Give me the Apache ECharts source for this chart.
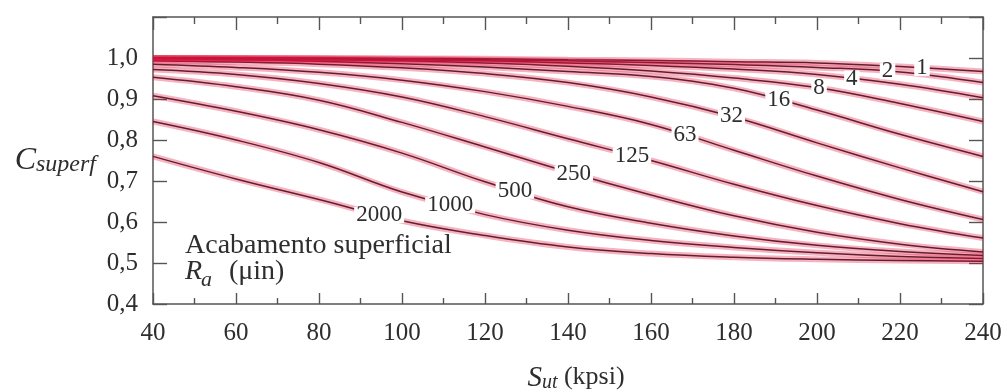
<!DOCTYPE html>
<html>
<head>
<meta charset="utf-8">
<script src="https://cdn.jsdelivr.net/npm/echarts@6/dist/echarts.min.js"></script>
<style>
  html, body { margin: 0; padding: 0; background: #fff; }
  #chart { width: 1007px; height: 392px; }
</style>
</head>
<body>
<div id="chart"></div>
<script>
// Ultimate tensile strength S_ut (kpsi) at which each curve is sampled
const sut = [40, 60, 80, 100, 120, 140, 160, 180, 200, 220, 240];

// Surface roughness Ra (µin), one curve each
const roughness = ['1', '2', '4', '8', '16', '32', '63', '125', '250', '500', '1000', '2000'];

// Surface factor C_superf for each roughness, at the S_ut values above
const ra1    = [1.000, 1.000, 1.000, 0.999, 0.998, 0.996, 0.994, 0.991, 0.988, 0.979, 0.967];
const ra2    = [1.000, 1.000, 0.999, 0.998, 0.996, 0.993, 0.989, 0.984, 0.977, 0.966, 0.940];
const ra4    = [1.000, 0.999, 0.998, 0.996, 0.993, 0.988, 0.982, 0.973, 0.960, 0.936, 0.903];
const ra8    = [0.999, 0.998, 0.996, 0.993, 0.988, 0.980, 0.968, 0.951, 0.928, 0.889, 0.845];
const ra16   = [0.998, 0.996, 0.992, 0.986, 0.978, 0.967, 0.955, 0.926, 0.873, 0.814, 0.760];
const ra32   = [0.993, 0.990, 0.985, 0.976, 0.962, 0.940, 0.905, 0.856, 0.793, 0.732, 0.674];
const ra63   = [0.985, 0.977, 0.965, 0.946, 0.918, 0.882, 0.838, 0.775, 0.712, 0.655, 0.606];
const ra125  = [0.972, 0.960, 0.938, 0.905, 0.857, 0.803, 0.750, 0.692, 0.640, 0.596, 0.561];
const ra250  = [0.953, 0.930, 0.897, 0.843, 0.783, 0.722, 0.666, 0.615, 0.575, 0.546, 0.527];
const ra500  = [0.908, 0.870, 0.825, 0.768, 0.698, 0.637, 0.597, 0.566, 0.543, 0.528, 0.518];
const ra1000 = [0.845, 0.800, 0.745, 0.673, 0.618, 0.580, 0.555, 0.538, 0.525, 0.516, 0.511];
const ra2000 = [0.760, 0.705, 0.655, 0.603, 0.567, 0.539, 0.523, 0.514, 0.509, 0.506, 0.504];

const curves = [ra1, ra2, ra4, ra8, ra16, ra32, ra63, ra125, ra250, ra500, ra1000, ra2000];

// S_ut at which each roughness label sits on its curve
const labelSut = [225.3, 217, 208.4, 200.5, 190.8, 179.4, 168.2, 155.4, 141.4, 127.2, 111.6, 94.5];

// Tick labels
const xTickLabels = ['40', '60', '80', '100', '120', '140', '160', '180', '200', '220', '240'];
const yTickLabels = ['0,4', '0,5', '0,6', '0,7', '0,8', '0,9', '1,0'];

const SERIF = '"Liberation Serif", "Times New Roman", serif';
const INK = '#2e2e2e';
const FRAME = '#555';

function valueAt(curve, s) {
  for (let j = 0; j < sut.length - 1; j++) {
    if (s >= sut[j] && s <= sut[j + 1]) {
      const t = (s - sut[j]) / (sut[j + 1] - sut[j]);
      return curve[j] + t * (curve[j + 1] - curve[j]);
    }
  }
  return curve[curve.length - 1];
}

const series = [];
curves.forEach((curve, i) => {
  const pts = sut.map((s, j) => [s, curve[j]]);
  // dark core of each curve
  series.push({
    type: 'line', name: roughness[i], data: pts, smooth: 0.4, symbol: 'none', silent: true, z: 2,
    lineStyle: { color: '#2c2226', width: 1.5 }
  });
  // translucent crimson wash on top; where curves crowd together it builds up to solid red
  series.push({
    type: 'line', data: pts, smooth: 0.4, symbol: 'none', silent: true, z: 3,
    lineStyle: { color: 'rgba(224, 20, 62, 0.32)', width: 6 }
  });
});

// Roughness labels, set on their curves with a white backing that breaks the line
const labelData = labelSut.map((s, i) => [s, valueAt(curves[i], s), i]);
series.push({
  type: 'custom', silent: true, z: 6,
  data: labelData,
  renderItem: (params, api) => {
    const p = api.coord([api.value(0), api.value(1)]);
    return {
      type: 'text',
      x: p[0], y: p[1],
      style: {
        text: roughness[api.value(2)],
        font: '23px ' + SERIF,
        fill: INK,
        align: 'center', verticalAlign: 'middle',
        textAlign: 'center', textVerticalAlign: 'middle',
        backgroundColor: '#fff',
        padding: [1, 2, -1, 2],
        lineHeight: 16
      }
    };
  }
});

const tickLine = { color: FRAME, width: 1.4 };

const option = {
  animation: false,
  backgroundColor: '#fff',
  grid: { left: 153, right: 24, top: 17, bottom: 88, outerBoundsMode: 'none', containLabel: false },
  xAxis: [
    {
      type: 'value', position: 'bottom', min: 40, max: 240, interval: 20,
      axisLine: { show: true, onZero: false, lineStyle: { color: FRAME, width: 1.5 } },
      axisTick: { show: true, inside: true, length: 11, lineStyle: tickLine },
      minorTick: { show: true, splitNumber: 2, length: 6, lineStyle: tickLine },
      splitLine: { show: false },
      axisLabel: {
        margin: 17, fontFamily: SERIF, fontSize: 25, color: INK,
        formatter: v => xTickLabels[Math.round((v - 40) / 20)] || ''
      },
      name: '{s|S}{u|ut}{k| (kpsi)}',
      nameLocation: 'middle', nameGap: 60,
      nameTextStyle: {
        padding: [0, 0, 0, 16],
        rich: {
          s: { fontFamily: SERIF, fontStyle: 'italic', fontSize: 29, color: INK, verticalAlign: 'top', lineHeight: 29 },
          u: { fontFamily: SERIF, fontStyle: 'italic', fontSize: 20, color: INK, verticalAlign: 'bottom', lineHeight: 20, padding: [13, 0, 0, 0] },
          k: { fontFamily: SERIF, fontSize: 26, color: INK, verticalAlign: 'top', lineHeight: 29 }
        }
      }
    },
    {
      type: 'value', position: 'top', min: 40, max: 240, interval: 20,
      axisLine: { show: true, onZero: false, lineStyle: { color: FRAME, width: 1.5 } },
      axisTick: { show: true, inside: true, length: 13, lineStyle: tickLine },
      minorTick: { show: true, splitNumber: 2, length: 7, lineStyle: tickLine },
      splitLine: { show: false },
      axisLabel: { show: false }
    }
  ],
  yAxis: [
    {
      type: 'value', position: 'left', min: 0.4, max: 1.1, interval: 0.1,
      axisLine: { show: true, onZero: false, lineStyle: { color: FRAME, width: 1.5 } },
      axisTick: { show: true, inside: true, length: 14, lineStyle: tickLine },
      splitLine: { show: false },
      axisLabel: {
        margin: 15, fontFamily: SERIF, fontSize: 25, color: INK,
        formatter: v => yTickLabels[Math.round((v - 0.4) * 10)] || ''
      },
      name: '{c|C}{s|superf}',
      nameLocation: 'middle', nameRotate: 0, nameGap: 57,
      nameTextStyle: {
        rich: {
          c: { fontFamily: SERIF, fontStyle: 'italic', fontSize: 32, color: INK, verticalAlign: 'top', lineHeight: 32 },
          s: { fontFamily: SERIF, fontStyle: 'italic', fontSize: 24, color: INK, verticalAlign: 'bottom', lineHeight: 24, padding: [12, 0, 0, 0] }
        }
      }
    },
    {
      type: 'value', position: 'right', min: 0.4, max: 1.1, interval: 0.1,
      axisLine: { show: true, onZero: false, lineStyle: { color: FRAME, width: 1.5 } },
      axisTick: { show: true, inside: true, length: 14, lineStyle: tickLine },
      splitLine: { show: false },
      axisLabel: { show: false }
    }
  ],
  graphic: [
    {
      type: 'text', z: 10,
      style: {
        x: 185, y: 246, text: 'Acabamento superficial',
        font: '28px ' + SERIF, fill: INK,
        textAlign: 'left', textVerticalAlign: 'middle', align: 'left', verticalAlign: 'middle'
      }
    },
    {
      type: 'text', z: 10,
      style: {
        x: 185, y: 272, text: 'R',
        font: 'italic 28px ' + SERIF, fill: INK,
        textAlign: 'left', textVerticalAlign: 'middle', align: 'left', verticalAlign: 'middle'
      }
    },
    {
      type: 'text', z: 10,
      style: {
        x: 201, y: 280, text: 'a',
        font: 'italic 22px ' + SERIF, fill: INK,
        textAlign: 'left', textVerticalAlign: 'middle', align: 'left', verticalAlign: 'middle'
      }
    },
    {
      type: 'text', z: 10,
      style: {
        x: 229, y: 272, text: '(\u03bcin)',
        font: '28px ' + SERIF, fill: INK,
        textAlign: 'left', textVerticalAlign: 'middle', align: 'left', verticalAlign: 'middle'
      }
    }
  ],
  series: series
};

const chart = echarts.init(document.getElementById('chart'), null, { renderer: 'canvas' });
chart.setOption(option);
</script>
</body>
</html>
